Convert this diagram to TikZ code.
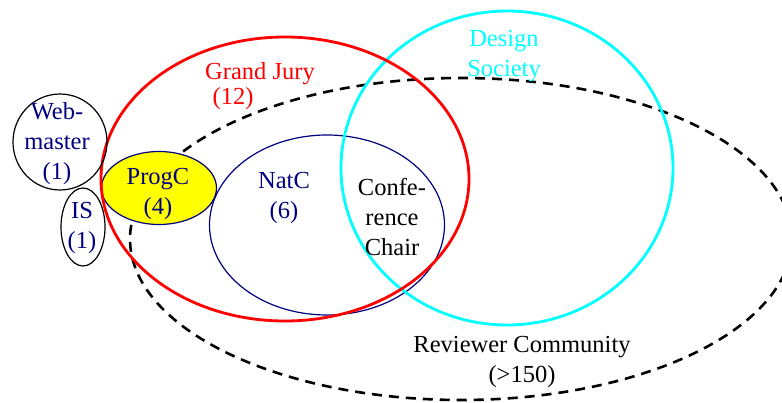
\documentclass[tikz,border=0pt]{standalone}
\usepackage{fontspec}
\setmainfont{Liberation Serif}
\newfontfamily\labelfont{Liberation Serif}
\usetikzlibrary{shapes.geometric}
\definecolor{navy}{RGB}{0,0,128}
\definecolor{aqua}{RGB}{0,255,255}
\definecolor{lemon}{RGB}{255,255,0}
\tikzset{
  set/.style={ellipse, inner sep=0pt, outer sep=0pt},
  lbl/.style={align=center, inner sep=0pt, font=\labelfont\fontsize{24.5}{30}\selectfont},
}
\begin{document}
\begin{tikzpicture}[x=1pt,y=-1pt]
\useasboundingbox (0,0) rectangle (782,403);
% reviewer community (dashed)
\node[set, draw=black, line width=2.6pt, dash pattern=on 10pt off 7pt,
      minimum width=662pt, minimum height=322pt] (rev) at (461,239) {};
% programme committee
\node[set, draw=navy, fill=lemon, line width=1.2pt,
      minimum width=115pt, minimum height=73pt] (progc) at (159,188) {};
% national committee
\node[set, draw=navy, line width=1.2pt,
      minimum width=235pt, minimum height=180pt] (natc) at (327,225) {};
% design society
\node[set, draw=aqua, line width=2.8pt,
      minimum width=332pt, minimum height=314pt] (ds) at (507,168) {};
% grand jury
\node[set, draw=red, line width=2.8pt,
      minimum width=368pt, minimum height=284pt] (gj) at (285,179) {};
% webmaster and IS
\node[set, draw=black, line width=1.2pt,
      minimum width=94pt, minimum height=96pt] (web) at (60,142) {};
\node[set, draw=black, line width=1.2pt,
      minimum width=44pt, minimum height=78pt] (is) at (83,227) {};

% labels
\node[lbl, text=navy] (tweb) at (57,144) {Web-\\master\\(1)};
\node[lbl, text=navy] (tis) at (82,228) {IS\\(1)};
\node[lbl, text=navy] (tprogc) at (158,194) {ProgC\\(4)};
\node[lbl, text=navy] (tnatc) at (284,198) {NatC\\(6)};
\node[lbl, text=black] (tcc) at (392,217) {Confe-\\rence\\Chair};
\node[lbl, text=red] (tgj) at (260,74) {Grand Jury};
\node[lbl, text=red] (tgjn) at (233,99) {(12)};
\node[lbl, text=aqua] (tds) at (504,56) {Design\\Society};
\node[lbl, text=black] (trev) at (522,362) {Reviewer Community\\(>150)};
\end{tikzpicture}
\end{document}
